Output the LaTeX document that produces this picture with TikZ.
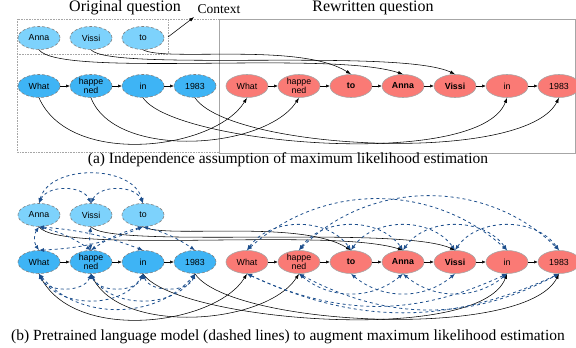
\documentclass[tikz,border=0pt]{standalone}
\usepackage{fontspec}
\setmainfont{Liberation Serif}
\setsansfont{Liberation Sans}
\usetikzlibrary{arrows.meta, positioning, shapes.geometric}
\definecolor{ctxblue}{RGB}{125,210,252}
\definecolor{srcblue}{RGB}{62,180,245}
\definecolor{tgtred}{RGB}{250,122,117}
\definecolor{lmblue}{RGB}{28,78,140}
\tikzset{
  tok/.style = {ellipse, minimum width=42pt, minimum height=23pt, inner sep=0pt, align=center, line width=0.6pt, font=\sffamily\fontsize{8.8}{8.8}\selectfont},
  ctx/.style = {tok, fill=ctxblue, draw=gray, densely dashed},
  src/.style = {tok, fill=srcblue, draw=gray, densely dashed},
  tgt/.style = {tok, fill=tgtred, draw=gray!70},
  chain/.style = {-{Latex[length=3.5pt,width=3pt]}, line width=0.5pt},
  mle/.style = {-{Latex[length=5pt,width=3.5pt]}, line width=0.55pt},
  lm/.style = {{Latex[length=5pt,width=4pt]}-{Latex[length=5pt,width=4pt]}, lmblue, dashed, line width=0.8pt},
  title/.style = {font=\fontsize{16}{16}\selectfont},
  captxt/.style = {font=\fontsize{15.5}{16}\selectfont}
}

\begin{document}
\begin{tikzpicture}[x=1pt, y=-1pt, node distance=9.4pt]
\useasboundingbox (0,0) rectangle (576,348);

% ===== (a) =====
\node[title] (aorig) at (125,8) {Original question};
\node[title] (arew) at (373,8) {Rewritten question};
\node[font=\fontsize{13.5}{14}\selectfont] (actxlbl) at (219,9) {Context};

% frames
\draw[gray!70, densely dotted, line width=0.6pt] (17,19) rectangle (219,152);
\draw[gray!70, densely dotted, line width=0.6pt] (17,54) -| (168,19);
\draw[gray!70, line width=0.7pt] (219,19) rectangle (575,153);
\coordinate (actxcorner) at (168,37);
\draw[mle] (actxcorner) -- (actxlbl.south west);

% context
\node[ctx] (actx1) at (39,38) {Anna};
\node[ctx, right=of actx1] (actx2) {Vissi};
\node[ctx, right=of actx2] (actx3) {to};

% original question
\node[src] (asrc1) at (39,86) {What};
\node[src, right=of asrc1] (asrc2) {happe\\ned};
\node[src, right=of asrc2] (asrc3) {in};
\node[src, right=of asrc3] (asrc4) {1983};

% rewritten question
\node[tgt, right=of asrc4] (atgt1) {What};
\node[tgt, right=of atgt1] (atgt2) {happe\\ned};
\node[tgt, right=of atgt2] (atgt3) {\textbf{to}};
\node[tgt, right=of atgt3] (atgt4) {\textbf{Anna}};
\node[tgt, right=of atgt4] (atgt5) {\textbf{Vissi}};
\node[tgt, right=of atgt5] (atgt6) {in};
\node[tgt, right=of atgt6] (atgt7) {1983};

% chains
\foreach \i/\j in {1/2,2/3,3/4} \draw[chain] (asrc\i) -- (asrc\j);
\foreach \i/\j in {1/2,2/3,3/4,4/5,5/6,6/7} \draw[chain] (atgt\i) -- (atgt\j);

% maximum likelihood links
\draw[mle] (actx1.south) .. controls (60,78) and (330,50) .. (atgt4.north);
\draw[mle] (actx2.south) .. controls (110,72) and (400,48) .. (atgt5.north);
\draw[mle] (actx3.south) .. controls (165,62) and (300,42) .. (atgt3.north);
\draw[mle] (asrc1.south) .. controls (70,168) and (215,150) .. (atgt1.south);
\draw[mle] (asrc2.south) .. controls (115,160) and (265,150) .. (atgt2.south);
\draw[mle] (asrc3.south) .. controls (175,145) and (480,170) .. (atgt6.south);
\draw[mle] (asrc4.south) .. controls (230,150) and (525,165) .. (atgt7.south);

\node[captxt] (acap) at (288,160) {(a) Independence assumption of maximum likelihood estimation};

% ===== (b) =====
\node[ctx] (bctx1) at (39,215) {Anna};
\node[ctx, right=of bctx1] (bctx2) {Vissi};
\node[ctx, right=of bctx2] (bctx3) {to};

\node[src] (bsrc1) at (39,262) {What};
\node[src, right=of bsrc1] (bsrc2) {happe\\ned};
\node[src, right=of bsrc2] (bsrc3) {in};
\node[src, right=of bsrc3] (bsrc4) {1983};

\node[tgt, right=of bsrc4] (btgt1) {What};
\node[tgt, right=of btgt1] (btgt2) {happe\\ned};
\node[tgt, right=of btgt2] (btgt3) {\textbf{to}};
\node[tgt, right=of btgt3] (btgt4) {\textbf{Anna}};
\node[tgt, right=of btgt4] (btgt5) {\textbf{Vissi}};
\node[tgt, right=of btgt5] (btgt6) {in};
\node[tgt, right=of btgt6] (btgt7) {1983};

\foreach \i/\j in {1/2,2/3,3/4} \draw[chain] (bsrc\i) -- (bsrc\j);
\foreach \i/\j in {1/2,2/3,3/4,4/5,5/6,6/7} \draw[chain] (btgt\i) -- (btgt\j);

\draw[mle] (bctx1.south) .. controls (60,255) and (330,227) .. (btgt4.north);
\draw[mle] (bctx2.south) .. controls (110,249) and (400,225) .. (btgt5.north);
\draw[mle] (bctx3.south) .. controls (165,239) and (300,219) .. (btgt3.north);
\draw[mle] (bsrc1.south) .. controls (70,344) and (215,326) .. (btgt1.south);
\draw[mle] (bsrc2.south) .. controls (115,336) and (265,326) .. (btgt2.south);
\draw[mle] (bsrc3.south) .. controls (175,321) and (480,346) .. (btgt6.south);
\draw[mle] (bsrc4.south) .. controls (230,326) and (525,341) .. (btgt7.south);

% language model links (dashed)
\draw[lm] (bctx1.north) to[bend left=65] (bctx2.north);
\draw[lm] (bctx2.north) to[bend left=65] (bctx3.north);
\draw[lm] (bctx1.north) to[bend left=75] (bctx3.north);
\draw[lm] (bctx1.south) to[bend right=35] (bsrc1.north);
\draw[lm] (bctx1.south) to[bend left=10] (bsrc2.north);
\draw[lm] (bctx1.south) to[bend left=8] (bsrc3.north);
\draw[lm] (bctx2.south) to[bend right=10] (bsrc2.north);
\draw[lm] (bctx3.south) to[bend left=10] (bsrc1.north);
\draw[lm] (bctx3.south) to[bend right=10] (bsrc2.north);
\draw[lm] (bctx3.south) to[bend left=10] (bsrc4.north);
\draw[lm] (bsrc1.south) to[bend right=70] (bsrc2.south);
\draw[lm] (bsrc2.south) to[bend right=70] (bsrc3.south);
\draw[lm] (bsrc3.south) to[bend right=70] (bsrc4.south);
\draw[lm] (bsrc1.south) to[bend right=60] (bsrc3.south);
\draw[lm] (bsrc2.south) to[bend right=60] (bsrc4.south);
\draw[lm] (bsrc1.south) to[bend right=50] (bsrc4.south);
\draw[lm] (btgt1.north) to[bend left=55] (btgt3.north);
\draw[lm] (btgt2.north) to[bend left=55] (btgt4.north);
\draw[lm] (btgt3.north) to[bend left=55] (btgt5.north);
\draw[lm] (btgt4.north) to[bend left=55] (btgt6.north);
\draw[lm] (btgt5.north) to[bend left=55] (btgt7.north);
\draw[lm] (btgt1.north) to[bend left=42] (btgt6.north);
\draw[lm] (btgt2.north) to[bend left=45] (btgt7.north);
\draw[lm] (btgt2.south) to[bend right=40] (btgt4.south);
\draw[lm] (btgt3.south) to[bend right=40] (btgt5.south);
\draw[lm] (btgt4.south) to[bend right=40] (btgt6.south);
\draw[lm] (btgt1.south) to[bend right=25] (btgt6.south);
\draw[lm] (btgt1.south) to[bend right=25] (btgt7.south);
\draw[lm] (btgt2.south) to[bend right=28] (btgt7.south);

\node[captxt] (bcap) at (288,337) {(b) Pretrained language model (dashed lines) to augment maximum likelihood estimation};

\end{tikzpicture}
\end{document}
